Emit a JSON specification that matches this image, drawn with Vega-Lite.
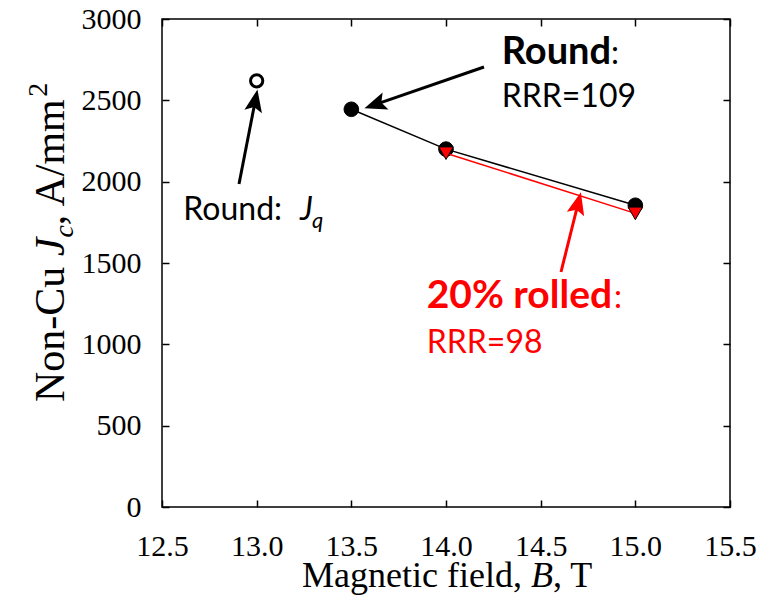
{
  "$schema": "https://vega.github.io/schema/vega-lite/v6.json",
  "width": 568,
  "height": 488,
  "autosize": {"type": "none"},
  "padding": {"left": 162, "top": 19, "right": 42, "bottom": 89},
  "background": "white",
  "config": {
    "view": {"stroke": "black", "strokeWidth": 1.5},
    "axis": {
      "domain": false, "grid": false, "ticks": true, "tickColor": "black", "tickWidth": 1.5, "tickSize": -7,
      "labelFont": "Liberation Serif", "labelFontSize": 30, "labelColor": "black", "title": null,
      "labelOverlap": false, "labelFlush": false, "labelBound": false
    },
    "text": {"baseline": "alphabetic", "align": "left"}
  },
  "datasets": {
    "jc": [
      {"s": "Round Jq", "B": 13.0, "Jc": 2620},
      {"s": "Round", "B": 13.5, "Jc": 2445},
      {"s": "Round", "B": 14.0, "Jc": 2200},
      {"s": "Round", "B": 15.0, "Jc": 1855},
      {"s": "Rolled", "B": 14.0, "Jc": 2175},
      {"s": "Rolled", "B": 15.0, "Jc": 1805}
    ],
    "arrows": [
      {"a": "round", "B": 14.2007, "Jc": 2704.9, "B2": 13.6329, "Jc2": 2476.8},
      {"a": "jq", "B": 12.9067, "Jc": 1985.6, "B2": 12.9912, "Jc2": 2489.1},
      {"a": "rolled", "B": 14.6074, "Jc": 1444.6, "B2": 14.6961, "Jc2": 1858.4}
    ],
    "notes": [
      {"g": "bold", "t": "Round", "B": 14.294, "Jc": 2723},
      {"g": "reg", "t": ":", "B": 14.8715, "Jc": 2723},
      {"g": "reg", "t": "RRR=109", "B": 14.294, "Jc": 2457},
      {"g": "reg", "t": "Round:", "B": 12.6125, "Jc": 1764},
      {"g": "ital", "t": "J", "B": 13.229, "Jc": 1764},
      {"g": "sub", "t": "q", "B": 13.292, "Jc": 1715},
      {"g": "redbold", "t": "20% rolled", "B": 13.898, "Jc": 1221.5},
      {"g": "red", "t": ":", "B": 14.887, "Jc": 1221.5},
      {"g": "red", "t": "RRR=98", "B": 13.898, "Jc": 945},
      {"g": "xt", "t": "Magnetic field,", "B": 13.2394, "Jc": -491.8},
      {"g": "xti", "t": "B", "B": 14.449, "Jc": -491.8},
      {"g": "xt", "t": ", T", "B": 14.565, "Jc": -491.8},
      {"g": "yt", "t": "Non-Cu", "B": 11.9824, "Jc": 645.5},
      {"g": "yti", "t": "J", "B": 11.9824, "Jc": 1541.8},
      {"g": "ysub", "t": "c", "B": 11.9824, "Jc": 1656},
      {"g": "yt", "t": ", A/mm", "B": 11.9824, "Jc": 1732},
      {"g": "ysup", "t": "2", "B": 11.9824, "Jc": 2522}
    ]
  },
  "resolve": {"axis": {"x": "independent", "y": "independent"}},
  "layer": [
    {
      "data": {"name": "jc"},
      "transform": [{"filter": "datum.s == 'Round'"}],
      "mark": {"type": "line", "color": "black", "strokeWidth": 1.5},
      "encoding": {
        "x": {"field": "B", "type": "quantitative", "scale": {"domain": [12.5, 15.5], "nice": false, "zero": false},
              "axis": {"orient": "bottom", "values": [12.5, 13, 13.5, 14, 14.5, 15, 15.5], "format": ".1f", "labelPadding": 31,
                       "labelFont": "Liberation Serif", "labelFontSize": 30, "labelColor": "black", "labelFlush": false, "labelOverlap": false,
                       "tickSize": -7, "tickWidth": 1.5, "tickColor": "black", "domain": false, "grid": false, "title": null}},
        "y": {"field": "Jc", "type": "quantitative", "scale": {"domain": [0, 3000], "nice": false, "zero": false},
              "axis": {"orient": "left", "values": [0, 500, 1000, 1500, 2000, 2500, 3000], "format": "d", "labelPadding": 28,
                       "labelFont": "Liberation Serif", "labelFontSize": 30, "labelColor": "black", "labelFlush": false, "labelOverlap": false,
                       "tickSize": -7, "tickWidth": 1.5, "tickColor": "black", "domain": false, "grid": false, "title": null}}
      }
    },
    {
      "data": {"name": "jc"},
      "transform": [{"filter": "datum.s == 'Round'"}],
      "mark": {"type": "point", "shape": "circle", "filled": true, "fill": "black", "stroke": "black", "strokeWidth": 1, "size": 215, "opacity": 1},
      "encoding": {
        "x": {"field": "B", "type": "quantitative", "axis": null},
        "y": {"field": "Jc", "type": "quantitative", "axis": null}
      }
    },
    {
      "data": {"name": "jc"},
      "transform": [{"filter": "datum.s == 'Rolled'"}],
      "mark": {"type": "line", "color": "#ff0000", "strokeWidth": 1.5},
      "encoding": {
        "x": {"field": "B", "type": "quantitative",
              "axis": {"orient": "top", "values": [12.5, 13, 13.5, 14, 14.5, 15, 15.5], "labels": false,
                       "tickSize": -7, "tickWidth": 1.5, "tickColor": "black", "domain": false, "grid": false, "title": null}},
        "y": {"field": "Jc", "type": "quantitative",
              "axis": {"orient": "right", "values": [0, 500, 1000, 1500, 2000, 2500, 3000], "labels": false,
                       "tickSize": -7, "tickWidth": 1.5, "tickColor": "black", "domain": false, "grid": false, "title": null}}
      }
    },
    {
      "data": {"name": "jc"},
      "transform": [{"filter": "datum.s == 'Rolled'"}],
      "mark": {"type": "point", "shape": "triangle-down", "filled": true, "fill": "#ff0000", "stroke": "black", "strokeWidth": 1, "size": 210, "opacity": 1},
      "encoding": {
        "x": {"field": "B", "type": "quantitative", "axis": null},
        "y": {"field": "Jc", "type": "quantitative", "axis": null}
      }
    },
    {
      "data": {"name": "jc"},
      "transform": [{"filter": "datum.s == 'Round Jq'"}],
      "mark": {"type": "point", "shape": "circle", "filled": false, "stroke": "black", "strokeWidth": 3, "size": 150, "opacity": 1},
      "encoding": {
        "x": {"field": "B", "type": "quantitative", "axis": null},
        "y": {"field": "Jc", "type": "quantitative", "axis": null}
      }
    },
    {
      "data": {"name": "arrows"},
      "transform": [{"filter": "datum.a != 'rolled'"}],
      "mark": {"type": "rule", "color": "black", "strokeWidth": 3},
      "encoding": {
        "x": {"field": "B", "type": "quantitative", "axis": null},
        "y": {"field": "Jc", "type": "quantitative", "axis": null},
        "x2": {"field": "B2"},
        "y2": {"field": "Jc2"}
      }
    },
    {
      "data": {"name": "arrows"},
      "transform": [{"filter": "datum.a == 'rolled'"}],
      "mark": {"type": "rule", "color": "#ff0000", "strokeWidth": 3},
      "encoding": {
        "x": {"field": "B", "type": "quantitative", "axis": null},
        "y": {"field": "Jc", "type": "quantitative", "axis": null},
        "x2": {"field": "B2"},
        "y2": {"field": "Jc2"}
      }
    },
    {
      "data": {"name": "arrows"},
      "transform": [{"filter": "datum.a == 'round'"}],
      "mark": {"type": "point", "shape": "M0,-1L0.7,0.75L0,0.4L-0.7,0.75Z", "filled": true, "fill": "black", "strokeWidth": 0, "size": 650, "angle": 251, "opacity": 1},
      "encoding": {
        "x": {"field": "B2", "type": "quantitative", "axis": null},
        "y": {"field": "Jc2", "type": "quantitative", "axis": null}
      }
    },
    {
      "data": {"name": "arrows"},
      "transform": [{"filter": "datum.a == 'jq'"}],
      "mark": {"type": "point", "shape": "M0,-1L0.7,0.75L0,0.4L-0.7,0.75Z", "filled": true, "fill": "black", "strokeWidth": 0, "size": 650, "angle": 11, "opacity": 1},
      "encoding": {
        "x": {"field": "B2", "type": "quantitative", "axis": null},
        "y": {"field": "Jc2", "type": "quantitative", "axis": null}
      }
    },
    {
      "data": {"name": "arrows"},
      "transform": [{"filter": "datum.a == 'rolled'"}],
      "mark": {"type": "point", "shape": "M0,-1L0.7,0.75L0,0.4L-0.7,0.75Z", "filled": true, "fill": "#ff0000", "strokeWidth": 0, "size": 650, "angle": 14, "opacity": 1},
      "encoding": {
        "x": {"field": "B2", "type": "quantitative", "axis": null},
        "y": {"field": "Jc2", "type": "quantitative", "axis": null}
      }
    },
    {
      "data": {"name": "notes"},
      "transform": [{"filter": "datum.g == 'bold'"}],
      "mark": {"type": "text", "font": "Lato", "fontSize": 38, "fontWeight": "bold", "color": "black"},
      "encoding": {
        "x": {"field": "B", "type": "quantitative", "axis": null},
        "y": {"field": "Jc", "type": "quantitative", "axis": null},
        "text": {"field": "t"}
      }
    },
    {
      "data": {"name": "notes"},
      "transform": [{"filter": "datum.g == 'reg'"}],
      "mark": {"type": "text", "font": "Lato", "fontSize": 32, "color": "black"},
      "encoding": {
        "x": {"field": "B", "type": "quantitative", "axis": null},
        "y": {"field": "Jc", "type": "quantitative", "axis": null},
        "text": {"field": "t"}
      }
    },
    {
      "data": {"name": "notes"},
      "transform": [{"filter": "datum.g == 'ital'"}],
      "mark": {"type": "text", "font": "Lato", "fontSize": 32, "fontStyle": "italic", "color": "black"},
      "encoding": {
        "x": {"field": "B", "type": "quantitative", "axis": null},
        "y": {"field": "Jc", "type": "quantitative", "axis": null},
        "text": {"field": "t"}
      }
    },
    {
      "data": {"name": "notes"},
      "transform": [{"filter": "datum.g == 'sub'"}],
      "mark": {"type": "text", "font": "Lato", "fontSize": 22, "fontStyle": "italic", "color": "black"},
      "encoding": {
        "x": {"field": "B", "type": "quantitative", "axis": null},
        "y": {"field": "Jc", "type": "quantitative", "axis": null},
        "text": {"field": "t"}
      }
    },
    {
      "data": {"name": "notes"},
      "transform": [{"filter": "datum.g == 'redbold'"}],
      "mark": {"type": "text", "font": "Lato", "fontSize": 39, "fontWeight": "bold", "color": "#ff0000"},
      "encoding": {
        "x": {"field": "B", "type": "quantitative", "axis": null},
        "y": {"field": "Jc", "type": "quantitative", "axis": null},
        "text": {"field": "t"}
      }
    },
    {
      "data": {"name": "notes"},
      "transform": [{"filter": "datum.g == 'red'"}],
      "mark": {"type": "text", "font": "Lato", "fontSize": 32, "color": "#ff0000"},
      "encoding": {
        "x": {"field": "B", "type": "quantitative", "axis": null},
        "y": {"field": "Jc", "type": "quantitative", "axis": null},
        "text": {"field": "t"}
      }
    },
    {
      "data": {"name": "notes"},
      "transform": [{"filter": "datum.g == 'xt'"}],
      "mark": {"type": "text", "font": "Liberation Serif", "fontSize": 36, "color": "black"},
      "encoding": {
        "x": {"field": "B", "type": "quantitative", "axis": null},
        "y": {"field": "Jc", "type": "quantitative", "axis": null},
        "text": {"field": "t"}
      }
    },
    {
      "data": {"name": "notes"},
      "transform": [{"filter": "datum.g == 'xti'"}],
      "mark": {"type": "text", "font": "Liberation Serif", "fontSize": 36, "fontStyle": "italic", "color": "black"},
      "encoding": {
        "x": {"field": "B", "type": "quantitative", "axis": null},
        "y": {"field": "Jc", "type": "quantitative", "axis": null},
        "text": {"field": "t"}
      }
    },
    {
      "data": {"name": "notes"},
      "transform": [{"filter": "datum.g == 'yt'"}],
      "mark": {"type": "text", "font": "Liberation Serif", "fontSize": 42, "angle": 270, "color": "black"},
      "encoding": {
        "x": {"field": "B", "type": "quantitative", "axis": null},
        "y": {"field": "Jc", "type": "quantitative", "axis": null},
        "text": {"field": "t"}
      }
    },
    {
      "data": {"name": "notes"},
      "transform": [{"filter": "datum.g == 'yti'"}],
      "mark": {"type": "text", "font": "Liberation Serif", "fontSize": 42, "fontStyle": "italic", "angle": 270, "color": "black"},
      "encoding": {
        "x": {"field": "B", "type": "quantitative", "axis": null},
        "y": {"field": "Jc", "type": "quantitative", "axis": null},
        "text": {"field": "t"}
      }
    },
    {
      "data": {"name": "notes"},
      "transform": [{"filter": "datum.g == 'ysub'"}],
      "mark": {"type": "text", "font": "Liberation Serif", "fontSize": 28, "fontStyle": "italic", "angle": 270, "dy": 9, "color": "black"},
      "encoding": {
        "x": {"field": "B", "type": "quantitative", "axis": null},
        "y": {"field": "Jc", "type": "quantitative", "axis": null},
        "text": {"field": "t"}
      }
    },
    {
      "data": {"name": "notes"},
      "transform": [{"filter": "datum.g == 'ysup'"}],
      "mark": {"type": "text", "font": "Liberation Serif", "fontSize": 28, "angle": 270, "dy": -17, "color": "black"},
      "encoding": {
        "x": {"field": "B", "type": "quantitative", "axis": null},
        "y": {"field": "Jc", "type": "quantitative", "axis": null},
        "text": {"field": "t"}
      }
    }
  ]
}
